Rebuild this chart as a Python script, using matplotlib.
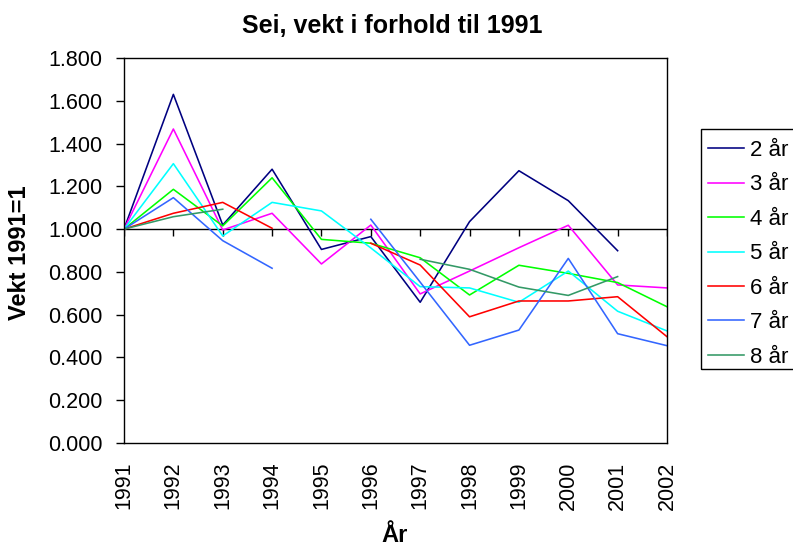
import numpy as np
import matplotlib
matplotlib.use("Agg")
import matplotlib.pyplot as plt
from matplotlib.patches import Rectangle

plt.rcParams['font.family'] = ['Liberation Sans', 'DejaVu Sans']

years = [1991, 1992, 1993, 1994, 1995, 1996, 1997, 1998, 1999, 2000, 2001, 2002]
nan = np.nan
series_names = ["2 år", "3 år", "4 år", "5 år", "6 år", "7 år", "8 år"]
s2 = [1.000, 1.630, 1.019, 1.280, 0.905, 0.965, 0.658, 1.035, 1.273, 1.133, 0.899, nan]
s3 = [1.000, 1.468, 0.996, 1.074, 0.837, 1.019, 0.697, 0.804, 0.913, 1.018, 0.739, 0.725]
s4 = [1.000, 1.186, 1.015, 1.240, 0.952, 0.934, 0.866, 0.692, 0.831, 0.793, 0.750, 0.637]
s5 = [1.000, 1.306, 0.968, 1.125, 1.085, 0.912, 0.731, 0.725, 0.658, 0.804, 0.616, 0.524]
s6 = [1.000, 1.074, 1.125, 1.004, nan, 0.934, 0.832, 0.590, 0.664, 0.664, 0.684, 0.497]
s7 = [1.000, 1.147, 0.946, 0.817, nan, 1.046, 0.752, 0.457, 0.528, 0.863, 0.511, 0.455]
s8 = [1.000, 1.058, 1.093, nan, nan, nan, 0.859, 0.812, 0.729, 0.690, 0.778, nan]
all_series = [s2, s3, s4, s5, s6, s7, s8]
colors = ["#000080", "#FF00FF", "#00FF00", "#00FFFF", "#FF0000", "#3366FF", "#339966"]

W, H = 793, 550
fig = plt.figure(figsize=(W/100, H/100), dpi=100)
ax = fig.add_axes([124/W, 1-443/H, 543/W, 385/H])

x = np.arange(len(years))
for vals, c, name in zip(all_series, colors, series_names):
    ax.plot(x, vals, color=c, lw=1.15, label=name)

ax.set_xlim(x[0], x[-1])
ax.set_ylim(0, 1.8)
yt = np.arange(0, 1.81, 0.2)
ax.set_yticks(yt)
ax.set_yticklabels([f"{v:.3f}" for v in yt], fontsize=15.5)
ax.set_xticks(x)
ax.set_xticklabels([str(y) for y in years], rotation=90, fontsize=15.5)
ax.tick_params(axis='x', length=0, pad=13.5)
ax.tick_params(axis='y', length=6, width=1, direction='out', pad=9.5)

# category axis crossing at 1.0 with tick marks below
ax.axhline(1.0, color='black', lw=1.0, zorder=1)
ax.vlines(x, 1.0 - 0.033, 1.0, color='black', lw=1.0, zorder=1)

for sp in ax.spines.values():
    sp.set_linewidth(1.0)
    sp.set_color('black')

fig.text(392/W, 1-33/H, "Sei, vekt i forhold til 1991", fontsize=18, fontweight='bold',
         ha='center', va='baseline')
fig.text(20/W, 1-253/H, "Vekt 1991=1", fontsize=17, fontweight='bold', rotation=90,
         ha='center', va='center')
fig.text(395/W, 1-536/H, "År", fontsize=17, fontweight='bold', ha='center', va='center')

# legend frame
fig.patches.append(Rectangle((701/W, 1-369/H), 110/W, 240/H, transform=fig.transFigure,
                             fill=False, edgecolor='black', lw=1.0))
leg = fig.legend(loc='upper left', bbox_to_anchor=(708/W, 1-140/H), fontsize=16,
                 frameon=False, handlelength=1.6, handletextpad=0.28, borderpad=0,
                 labelspacing=0.605, borderaxespad=0)

fig.savefig("out.png", dpi=100)
